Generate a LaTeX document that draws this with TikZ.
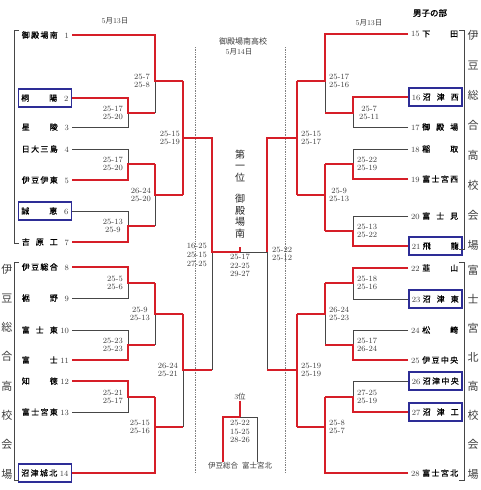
\documentclass[tikz,border=0pt]{standalone}
\usepackage{fontspec}
\newfontfamily\cjk{Noto Sans CJK JP}
\newfontfamily\cjkbf[FakeBold=1.5]{Noto Sans CJK JP}
\newfontfamily\cjkmd[FakeBold=0.8]{Noto Sans CJK JP}
\usetikzlibrary{positioning}

\definecolor{winred}{RGB}{214,30,40}
\definecolor{lostgray}{RGB}{70,70,70}
\definecolor{seedblue}{RGB}{45,45,150}
\definecolor{txtgray}{RGB}{60,60,60}

\newcommand{\lnm}[2]{\makebox[36pt][s]{\cjkmd #1}\hspace{2pt}\makebox[9pt][r]{\color{txtgray}#2}}
\newcommand{\rnm}[2]{\makebox[9pt][l]{\color{txtgray}#1}\hspace{2pt}\makebox[36pt][s]{\cjkmd #2}}
\newcommand{\jp}[1]{{\cjk #1}}

\begin{document}
\begin{tikzpicture}[
    x=1pt, y=-1pt,
    lteam/.style={anchor=east, inner xsep=3pt, inner ysep=0pt, minimum height=18pt, font=\fontsize{8}{9}\selectfont},
    rteam/.style={lteam, anchor=west},
    seeded/.style={draw=seedblue, line width=1.5pt},
    won/.style={draw=winred, line width=1.8pt},
    lost/.style={draw=lostgray, line width=1pt},
    score/.style={font=\fontsize{8}{8.6}\selectfont, text=txtgray, align=center, inner sep=0pt},
    venue/.style={draw=lostgray, line width=0.9pt},
    divider/.style={draw=gray, densely dotted, line width=0.7pt},
    vlabel/.style={font={\cjk\fontsize{11}{#1}\selectfont}, align=center, text=txtgray, inner sep=0pt},
    caption/.style={font=\fontsize{7.5}{9}\selectfont, text=txtgray, inner sep=0pt}
]
\useasboundingbox (0,0) rectangle (480,490);

% Intestazioni
\node[font={\cjkbf\fontsize{8.5}{10}\selectfont}] (title) at (430,13) {男子の部};
\node[caption] (dayl) at (115,21) {5\jp{月}13\jp{日}};
\node[caption] (dayr) at (369,23) {5\jp{月}13\jp{日}};
\node[caption, font={\cjk\fontsize{8}{9}\selectfont}] (site) at (243,41) {御殿場南高校};
\node[caption] (dayc) at (239,52) {5\jp{月}14\jp{日}};

% Squadre lato sinistro
\node[lteam] (t1) at (72,35) {\lnm{御\hfill 殿\hfill 場\hfill 南}{1}};
\node[lteam, seeded] (t2) at (72,98) {\lnm{桐\hfill 陽}{2}};
\node[lteam] (t3) at (72,127) {\lnm{星\hfill 陵}{3}};
\node[lteam] (t4) at (72,149) {\lnm{日\hfill 大\hfill 三\hfill 島}{4}};
\node[lteam] (t5) at (72,180) {\lnm{伊\hfill 豆\hfill 伊\hfill 東}{5}};
\node[lteam, seeded] (t6) at (72,211) {\lnm{誠\hfill 恵}{6}};
\node[lteam] (t7) at (72,242) {\lnm{吉\hfill 原\hfill 工}{7}};
\node[lteam] (t8) at (72,267) {\lnm{伊\hfill 豆\hfill 総\hfill 合}{8}};
\node[lteam] (t9) at (72,298) {\lnm{裾\hfill 野}{9}};
\node[lteam] (t10) at (72,330) {\lnm{富\hfill 士\hfill 東}{10}};
\node[lteam] (t11) at (72,360) {\lnm{富\hfill 士}{11}};
\node[lteam] (t12) at (72,381) {\lnm{知\hfill 徳}{12}};
\node[lteam] (t13) at (72,412) {\lnm{富\hfill 士\hfill 宮\hfill 東}{13}};
\node[lteam, seeded] (t14) at (72,473) {\lnm{沼\hfill 津\hfill 城\hfill 北}{14}};

% Squadre lato destro
\node[rteam] (t15) at (408,34) {\rnm{15}{下\hfill 田}};
\node[rteam, seeded] (t16) at (408,97) {\rnm{16}{沼\hfill 津\hfill 西}};
\node[rteam] (t17) at (408,127) {\rnm{17}{御\hfill 殿\hfill 場}};
\node[rteam] (t18) at (408,149) {\rnm{18}{稲\hfill 取}};
\node[rteam] (t19) at (408,179) {\rnm{19}{富\hfill 士\hfill 宮\hfill 西}};
\node[rteam] (t20) at (408,216) {\rnm{20}{富\hfill 士\hfill 見}};
\node[rteam, seeded] (t21) at (408,246) {\rnm{21}{飛\hfill 龍}};
\node[rteam] (t22) at (408,268) {\rnm{22}{韮\hfill 山}};
\node[rteam, seeded] (t23) at (408,299) {\rnm{23}{沼\hfill 津\hfill 東}};
\node[rteam] (t24) at (408,330) {\rnm{24}{松\hfill 崎}};
\node[rteam] (t25) at (408,360) {\rnm{25}{伊\hfill 豆\hfill 中\hfill 央}};
\node[rteam, seeded] (t26) at (408,381) {\rnm{26}{沼\hfill 津\hfill 中\hfill 央}};
\node[rteam, seeded] (t27) at (408,412) {\rnm{27}{沼\hfill 津\hfill 工}};
\node[rteam] (t28) at (408,473) {\rnm{28}{富\hfill 士\hfill 宮\hfill 北}};

% Incroci
\coordinate (j23) at (128,113);
\coordinate (j1) at (155,81);
\coordinate (j45) at (128,164);
\coordinate (j67) at (128,226);
\coordinate (j57) at (155,195);
\coordinate (jq1) at (183,138);
\coordinate (j89) at (128,283);
\coordinate (j1011) at (128,345);
\coordinate (j811) at (155,314);
\coordinate (j1213) at (128,397);
\coordinate (j1214) at (155,427);
\coordinate (jq2) at (183,370);
\coordinate (jsl) at (212,252);
\coordinate (jf) at (240,252);
\coordinate (champ) at (240,247);
\coordinate (jsr) at (267,252);
\coordinate (j1617) at (353,113);
\coordinate (j15) at (325,81);
\coordinate (j1819) at (353,164);
\coordinate (j2021) at (353,231);
\coordinate (j1921) at (325,195);
\coordinate (jq3) at (297,138);
\coordinate (j2223) at (353,283);
\coordinate (j2425) at (353,345);
\coordinate (j2225) at (325,314);
\coordinate (j2627) at (353,397);
\coordinate (j2728) at (325,427);
\coordinate (jq4) at (297,370);

% Separatori e gironi
\draw[divider] (195,47) -- (195,473);
\draw[divider] (285,47) -- (285,473);
\draw[venue] (19,30) -- (14,30) -- (14,243) -- (19,243);
\draw[venue] (19,262) -- (14,262) -- (14,480) -- (19,480);
\draw[venue] (459,30) -- (464,30) -- (464,249) -- (459,249);
\draw[venue] (459,262) -- (464,262) -- (464,480) -- (459,480);
\node[vlabel=29.3] (vl) at (7,371.5) {伊\\豆\\総\\合\\高\\校\\会\\場};
\node[vlabel=30] (vr1) at (473,140) {伊\\豆\\総\\合\\高\\校\\会\\場};
\node[vlabel=29.1] (vr2) at (473,372) {富\\士\\宮\\北\\高\\校\\会\\場};

% Perdenti
\draw[lost] (t3.east) -| (j23);
\draw[lost] (j23 -| j1) -- (j1);
\draw[lost] (t4.east) -| (j45);
\draw[lost] (t6.east) -| (j67);
\draw[lost] (j67 -| j57) -- (j57);
\draw[lost] (jq2 -| jsl) -- (jsl);
\draw[lost] (t9.east) -| (j89);
\draw[lost] (t10.east) -| (j1011);
\draw[lost] (j1011 -| j811) -- (j811);
\draw[lost] (t13.east) -| (j1213);
\draw[lost] (j1214 -| jq2) -- (jq2);
\draw[lost] (jf) -- (jsr);
\draw[lost] (t17.west) -| (j1617);
\draw[lost] (j1617 -| j15) -- (j15);
\draw[lost] (t18.west) -| (j1819);
\draw[lost] (t20.west) -| (j2021);
\draw[lost] (jq4 -| jsr) -- (jsr);
\draw[lost] (t23.west) -| (j2223);
\draw[lost] (t24.west) -| (j2425);
\draw[lost] (j2425 -| j2225) -- (j2225);
\draw[lost] (t26.west) -| (j2627);

% Vincitori lato sinistro
\draw[won] (t1.east) -| (j1) -- (j1 -| jq1);
\draw[won] (t2.east) -| (j23) -- (j23 -| j1);
\draw[won] (t5.east) -| (j45) -- (j45 -| j57);
\draw[won] (t7.east) -| (j67) -- (j67 -| j57);
\draw[won] (j45 -| j57) -- (j57) -- (j57 -| jq1);
\draw[won] (j1 -| jq1) -- (j57 -| jq1);
\draw[won] (jq1) -- (jq1 -| jsl) -- (jsl) -- (jf);
\draw[won] (t8.east) -| (j89) -- (j89 -| j811);
\draw[won] (t11.east) -| (j1011) -- (j1011 -| j811);
\draw[won] (j89 -| j811) -- (j811) -- (j811 -| jq2);
\draw[won] (t12.east) -| (j1213) -- (j1213 -| j1214);
\draw[won] (t14.east) -| (j1213 -| j1214);
\draw[won] (j1214) -- (j1214 -| jq2);
\draw[won] (j811 -| jq2) -- (jq2) -- (jq2 -| jsl);
\draw[won] (jf) -- (champ);

% Vincitori lato destro
\draw[won] (t15.west) -| (j15) -- (j15 -| jq3);
\draw[won] (t16.west) -| (j1617) -- (j1617 -| j15);
\draw[won] (t19.west) -| (j1819) -- (j1819 -| j1921);
\draw[won] (t21.west) -| (j2021) -- (j2021 -| j1921);
\draw[won] (j1819 -| j1921) -- (j2021 -| j1921);
\draw[won] (j1921) -- (j1921 -| jq3);
\draw[won] (j15 -| jq3) -- (j1921 -| jq3);
\draw[won] (jq3) -- (jq3 -| jsr) -- (jsr);
\draw[won] (t22.west) -| (j2223) -- (j2223 -| j2225);
\draw[won] (t25.west) -| (j2425) -- (j2425 -| j2225);
\draw[won] (j2223 -| j2225) -- (j2225) -- (j2225 -| jq4);
\draw[won] (t27.west) -| (j2627) -- (j2627 -| j2728);
\draw[won] (t28.west) -| (j2627 -| j2728);
\draw[won] (j2728) -- (j2728 -| jq4);
\draw[won] (j2225 -| jq4) -- (j2728 -| jq4);
\draw[won] (jq4) -- (jq4 -| jsr);

% Punteggi
\node[score, left=5pt of j23] (s23) {25-17\\25-20};
\node[score, left=5pt of j1] (s1) {25-7\\25-8};
\node[score, left=5pt of j45] (s45) {25-17\\25-20};
\node[score, left=5pt of j67] (s67) {25-13\\25-9};
\node[score, left=4pt of j57] (s57) {26-24\\25-20};
\node[score, left=3pt of jq1] (sq1) {25-15\\25-19};
\node[score, left=5pt of j89] (s89) {25-5\\25-6};
\node[score, left=5pt of j1011] (s1011) {25-23\\25-23};
\node[score, left=5pt of j811] (s811) {25-9\\25-13};
\node[score, left=5pt of j1213] (s1213) {25-21\\25-17};
\node[score, left=5pt of j1214] (s1214) {25-15\\25-16};
\node[score, left=5pt of jq2] (sq2) {26-24\\25-21};
\node[score, left=5pt of jsl, yshift=-3pt] (ssl) {16-25\\25-15\\27-25};
\node[score, below=2pt of jf] (sf) {25-17\\22-25\\29-27};
\node[score, right=5pt of jsr, yshift=-2pt] (ssr) {25-22\\25-12};
\node[score, right=4pt of j15] (s15) {25-17\\25-16};
\node[score, right=6pt of j1617] (s1617) {25-7\\25-11};
\node[score, right=4pt of j1819] (s1819) {25-22\\25-19};
\node[score, right=4pt of j2021] (s2021) {25-13\\25-22};
\node[score, right=4pt of j1921] (s1921) {25-9\\25-13};
\node[score, right=4pt of jq3] (sq3) {25-15\\25-17};
\node[score, right=4pt of j2223] (s2223) {25-18\\25-16};
\node[score, right=4pt of j2425] (s2425) {25-17\\26-24};
\node[score, right=4pt of j2225] (s2225) {26-24\\25-23};
\node[score, right=4pt of j2627] (s2627) {27-25\\25-19};
\node[score, right=4pt of j2728] (s2728) {25-8\\25-7};
\node[score, right=4pt of jq4] (sq4) {25-19\\25-19};

% Primo posto
\node[vlabel=11.6, text=black!85, font={\cjk\fontsize{10}{11.6}\selectfont}] (champion) at (240,194) {第\\一\\位\\[9.5pt]御\\殿\\場\\南};

% Terzo posto
\node[caption] (third) at (240,397) {3\jp{位}};
\coordinate (j3) at (240,417);
\node[caption, font={\cjk\fontsize{7.5}{9}\selectfont}] (izu3) at (223,466) {伊豆総合};
\node[caption, font={\cjk\fontsize{7.5}{9}\selectfont}] (fuji3) at (257,466) {富士宮北};
\draw[lost] (j3) -| (fuji3.north);
\draw[won] (j3) -| (izu3.north);
\draw[won] (third.south) -- (j3);
\node[score, below=3pt of j3] (s3) {25-22\\15-25\\28-26};

\end{tikzpicture}
\end{document}
